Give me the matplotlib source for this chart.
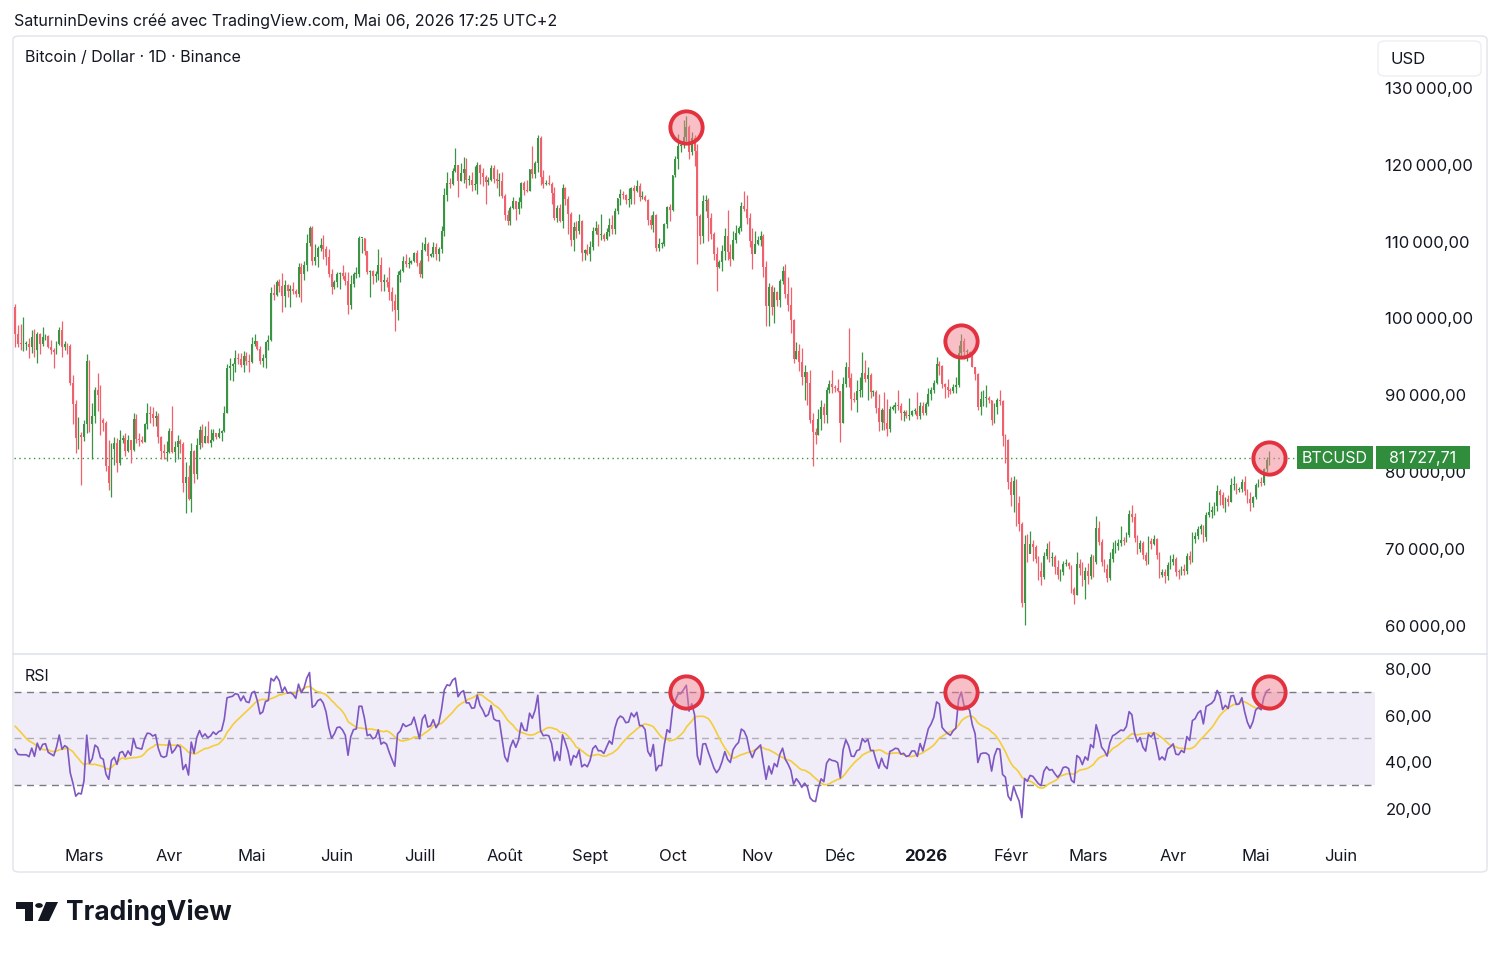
import numpy as np
import pandas as pd
import matplotlib
matplotlib.use("Agg")
import matplotlib.pyplot as plt
import matplotlib.dates as mdates
import matplotlib.transforms as mtransforms
from matplotlib.patches import FancyBboxPatch, Rectangle, Polygon, Circle
from matplotlib.lines import Line2D

plt.rcParams['font.family'] = ['Inter', 'DejaVu Sans']

# ---- data (prices in thousands of USD, daily, Binance BTCUSD) ----
first_day = "2025-02-04"

# closes before the visible window, only used to warm up the RSI
warmup_close = [94.6, 96.9, 98.1, 98.2, 98.3, 102.1, 96.9, 95.0, 92.5, 94.7, 94.5, 94.5, 94.5, 96.5,
                100.5, 99.9, 104.1, 104.4, 101.2, 102.0, 106.1, 103.7, 104.0, 104.8, 104.7, 102.6,
                102.1, 101.3, 103.7, 104.7, 102.4, 100.6, 97.7, 101.4]

close = [
    # feb 2025 (from the 4th)
    97.9, 96.6, 96.5, 96.5, 96.5, 96.1, 97.4, 95.8, 97.9, 96.6, 97.5, 97.6, 96.1, 95.8, 95.5, 96.6, 98.3, 96.1, 96.6, 96.3, 91.5, 88.7, 84.3, 84.7, 84.4,
    # mar
    86.1, 94.3, 86.1, 87.2, 90.6, 89.9, 86.7, 86.2, 80.7, 78.5, 82.9, 83.7, 81.1, 84.0, 84.3, 82.6, 84.0, 82.7, 86.8, 84.2, 84.0, 83.8, 86.1, 87.5, 87.4, 86.9, 87.2, 84.4, 82.6, 82.3, 82.5,
    # apr
    85.2, 82.5, 83.1, 83.9, 83.5, 78.4, 79.2, 76.3, 82.6, 79.6, 83.4, 85.3, 83.7, 84.5, 83.6, 84.0, 84.9, 84.4, 85.0, 85.2, 87.5, 93.4, 93.7, 93.9, 94.7, 94.6, 93.8, 95.0, 94.3, 94.2,
    # may
    96.5, 96.9, 95.9, 94.3, 94.7, 96.8, 97.0, 103.2, 102.9, 104.6, 104.1, 102.8, 104.2, 103.5, 103.7, 103.5, 103.1, 106.5, 105.6, 106.8, 109.7, 111.7, 107.3, 107.8, 109.0, 109.4, 108.9, 107.8, 105.6, 103.9, 104.6,
    # jun
    105.7, 105.8, 105.4, 104.7, 101.6, 104.4, 105.6, 105.7, 110.3, 110.3, 108.6, 105.9, 106.1, 105.4, 105.6, 106.8, 104.6, 104.9, 104.6, 103.3, 102.1, 100.9, 105.5, 106.0, 107.3, 106.9, 107.1, 107.3, 108.4, 107.1,
    # jul
    105.7, 108.8, 109.6, 108.0, 108.2, 109.2, 108.2, 108.9, 111.3, 115.9, 117.5, 117.4, 119.1, 119.8, 117.7, 118.8, 119.3, 117.9, 117.9, 117.3, 117.4, 119.9, 118.8, 118.3, 117.6, 117.9, 119.4, 118.0, 117.8, 117.8, 115.8,
    # aug
    113.3, 112.5, 114.2, 115.1, 114.1, 115.0, 117.5, 116.6, 116.5, 119.3, 118.7, 120.1, 123.3, 118.3, 117.4, 117.5, 117.4, 116.2, 112.9, 114.3, 112.5, 116.9, 115.4, 113.5, 110.1, 111.8, 111.3, 112.6, 108.4, 108.8, 108.2,
    # sep
    109.2, 111.2, 111.7, 110.7, 110.7, 110.2, 111.1, 112.0, 111.5, 113.9, 115.5, 116.1, 115.9, 115.3, 115.4, 116.8, 116.4, 117.1, 115.7, 115.7, 115.3, 112.7, 112.0, 113.3, 109.0, 109.6, 109.6, 112.1, 114.4, 114.0,
    # oct
    118.6, 120.6, 122.3, 122.4, 123.5, 124.8, 121.5, 123.3, 121.7, 113.2, 110.6, 115.2, 115.3, 113.0, 110.8, 108.2, 106.5, 107.2, 108.6, 110.6, 108.5, 107.6, 110.1, 111.0, 111.6, 114.5, 114.1, 112.9, 110.0, 108.3, 109.6,
    # nov
    110.1, 110.6, 106.5, 101.5, 103.9, 101.3, 103.3, 102.3, 104.7, 106.0, 103.0, 101.6, 99.7, 94.6, 95.6, 94.2, 92.2, 92.9, 91.5, 86.6, 85.1, 84.7, 86.8, 88.3, 87.3, 90.5, 91.3, 90.9, 90.8, 90.4,
    # dec
    86.3, 91.3, 93.5, 92.1, 89.4, 89.3, 90.4, 90.6, 92.7, 92.0, 92.5, 90.3, 90.3, 88.2, 86.4, 87.9, 86.2, 85.5, 88.1, 88.3, 88.6, 88.5, 87.6, 87.7, 87.2, 87.3, 87.8, 87.8, 87.1, 88.4, 87.5,
    # jan 2026
    88.7, 90.0, 90.6, 91.5, 93.9, 93.7, 91.3, 90.9, 90.6, 90.4, 90.9, 91.2, 95.4, 96.9, 95.5, 95.5, 95.1, 93.6, 92.6, 88.3, 89.4, 89.5, 89.5, 89.2, 86.6, 88.3, 89.2, 89.1, 84.6, 84.0, 78.6,
    # feb
    76.9, 78.7, 75.8, 73.1, 62.8, 70.5, 69.2, 70.5, 70.1, 68.6, 67.0, 66.2, 68.9, 69.8, 68.7, 68.8, 67.5, 66.4, 66.9, 67.9, 68.0, 67.6, 64.6, 63.9, 67.9, 67.4, 65.8, 67.0,
    # mar
    66.3, 68.8, 68.2, 72.6, 70.8, 68.1, 67.3, 66.1, 68.5, 69.9, 70.2, 70.6, 71.0, 70.9, 71.6, 74.4, 74.0, 71.3, 69.9, 70.6, 69.0, 68.3, 70.9, 70.5, 71.2, 69.1, 66.5, 66.9, 66.3, 67.8, 68.1,
    # apr
    68.5, 66.9, 66.8, 67.3, 67.0, 68.9, 68.4, 71.2, 71.5, 72.4, 72.8, 71.4, 74.3, 74.6, 74.9, 75.5, 77.4, 76.9, 75.6, 76.3, 76.0, 78.2, 78.3, 77.5, 77.6, 78.6, 77.4, 76.4, 75.8, 76.6,
    # may
    78.2, 78.6, 78.4, 80.3, 81.4, 81.72771,
]

high = [
    101.7, 99.0, 99.2, 100.1, 96.9, 97.3, 98.3, 98.5, 98.1, 98.0, 98.8, 97.9, 97.7, 97.0, 96.0, 96.9, 98.8, 99.5, 96.9, 96.7, 96.5, 92.5, 89.3, 87.0, 85.1,
    86.6, 95.2, 94.4, 88.9, 91.0, 92.8, 91.2, 86.9, 86.5, 84.0, 83.6, 84.4, 84.3, 85.3, 84.7, 85.0, 84.7, 84.0, 87.5, 87.4, 84.9, 84.5, 86.2, 88.8, 88.5, 88.3, 87.8, 87.5, 84.6, 83.5, 83.9,
    85.6, 88.5, 83.9, 84.7, 84.2, 83.8, 81.2, 80.8, 83.6, 82.7, 84.3, 85.9, 86.1, 85.8, 86.5, 85.5, 85.5, 85.0, 85.6, 85.3, 88.5, 93.9, 94.7, 94.0, 95.8, 95.3, 95.3, 95.6, 95.5, 95.2,
    97.4, 97.9, 96.9, 96.3, 95.2, 96.9, 97.7, 103.9, 104.3, 104.9, 105.0, 105.8, 104.9, 104.3, 104.2, 104.6, 103.7, 107.1, 107.1, 107.3, 110.8, 111.9, 111.9, 109.6, 109.3, 110.4, 110.7, 109.3, 108.9, 106.3, 104.9,
    105.9, 105.9, 106.8, 105.9, 105.9, 105.5, 105.9, 106.5, 110.6, 110.4, 110.4, 108.5, 106.2, 106.2, 106.0, 108.9, 107.8, 105.6, 105.3, 106.5, 104.0, 103.1, 106.1, 106.3, 108.0, 108.3, 107.8, 107.5, 108.5, 108.8,
    107.5, 109.8, 110.5, 109.8, 108.4, 109.8, 109.7, 109.2, 111.9, 116.8, 118.9, 118.2, 119.5, 122.0, 119.9, 120.1, 120.9, 120.8, 118.6, 118.9, 119.7, 120.2, 120.0, 119.5, 118.5, 118.3, 119.8, 119.8, 119.3, 118.8, 118.9,
    116.1, 114.0, 114.5, 115.7, 115.1, 115.7, 117.6, 117.7, 117.9, 119.3, 122.3, 120.3, 123.7, 123.6, 119.2, 117.9, 118.6, 117.6, 117.0, 114.6, 114.8, 117.4, 117.0, 115.8, 113.7, 112.4, 112.6, 113.5, 112.7, 108.9, 109.5,
    109.9, 111.8, 112.6, 112.2, 113.4, 111.0, 111.6, 112.9, 113.3, 114.3, 115.6, 116.7, 116.4, 116.1, 116.8, 117.0, 117.3, 117.9, 117.5, 116.4, 115.9, 115.4, 113.3, 113.9, 113.4, 110.3, 109.8, 112.3, 114.5, 114.8,
    118.6, 121.0, 123.9, 122.9, 125.7, 126.2, 125.1, 124.2, 123.8, 122.6, 113.4, 115.9, 116.0, 115.5, 113.6, 111.1, 109.2, 107.5, 109.4, 111.7, 114.0, 109.5, 111.3, 112.0, 111.9, 115.0, 116.4, 116.0, 113.6, 111.6, 111.2,
    110.6, 111.2, 110.8, 107.3, 104.5, 104.2, 104.0, 103.4, 105.0, 106.7, 107.0, 105.3, 104.0, 99.8, 96.8, 96.6, 96.0, 93.8, 92.9, 93.2, 87.5, 85.6, 88.1, 89.2, 88.9, 91.0, 91.9, 93.1, 91.2, 92.0,
    90.4, 92.3, 94.2, 98.6, 92.7, 90.3, 91.8, 92.3, 95.5, 94.5, 93.5, 92.8, 90.6, 90.5, 90.0, 88.2, 90.3, 89.4, 88.5, 88.6, 89.0, 90.5, 88.9, 87.9, 88.0, 89.5, 88.0, 88.2, 90.3, 89.0, 89.0,
    89.0, 90.8, 91.0, 91.8, 94.8, 94.3, 93.8, 91.5, 92.0, 90.8, 91.3, 92.3, 96.4, 97.9, 97.3, 95.9, 95.6, 95.5, 93.6, 92.8, 90.4, 90.6, 91.2, 89.8, 89.2, 88.9, 89.5, 90.5, 89.2, 84.8, 84.1,
    79.2, 79.3, 79.0, 76.8, 73.3, 71.6, 71.8, 72.2, 71.0, 70.4, 68.9, 68.2, 69.4, 70.6, 70.9, 69.5, 69.1, 68.4, 67.3, 68.3, 68.6, 68.2, 67.7, 64.9, 69.5, 68.6, 68.2, 67.5,
    68.0, 69.2, 69.1, 74.2, 73.5, 71.1, 68.5, 67.9, 69.4, 70.8, 71.0, 71.2, 72.8, 71.4, 72.0, 74.9, 75.6, 74.5, 71.6, 71.0, 70.9, 69.4, 71.5, 71.3, 71.6, 71.3, 69.4, 67.3, 67.2, 68.2, 69.0,
    69.2, 68.8, 67.3, 67.6, 67.9, 69.3, 69.6, 72.0, 72.1, 72.9, 73.1, 73.0, 74.6, 76.0, 75.4, 75.9, 78.2, 77.6, 77.3, 76.6, 76.9, 79.1, 79.3, 78.4, 77.9, 79.0, 79.3, 77.6, 77.3, 76.8,
    78.4, 78.9, 79.2, 80.4, 81.8, 82.6,
]

low = [
    96.2, 96.2, 95.7, 95.6, 95.7, 94.7, 95.3, 94.9, 94.1, 95.2, 96.3, 97.1, 96.0, 95.2, 93.4, 95.2, 96.4, 94.8, 95.8, 95.2, 91.2, 86.1, 82.3, 82.8, 78.2,
    83.9, 85.0, 85.1, 81.5, 86.3, 87.8, 84.7, 85.2, 80.0, 77.5, 76.6, 80.8, 79.9, 80.8, 83.7, 82.0, 82.5, 81.1, 82.6, 83.7, 83.2, 83.6, 83.8, 85.5, 86.3, 85.9, 85.8, 83.6, 81.6, 81.6, 81.3,
    82.4, 82.3, 81.2, 81.6, 82.4, 77.2, 74.5, 76.2, 74.6, 78.5, 78.9, 82.8, 83.1, 83.7, 83.6, 83.1, 83.9, 84.1, 84.3, 83.9, 85.1, 87.6, 91.9, 91.7, 92.9, 93.9, 93.6, 92.9, 93.8, 92.9,
    94.1, 96.3, 95.7, 93.9, 93.5, 93.4, 95.8, 96.9, 102.3, 102.8, 103.3, 100.7, 101.4, 102.6, 101.4, 103.1, 102.6, 102.6, 102.0, 104.9, 106.1, 109.3, 106.8, 106.8, 106.6, 108.7, 107.6, 106.8, 105.3, 103.1, 103.7,
    103.9, 103.7, 105.0, 104.2, 100.4, 101.1, 103.9, 105.1, 105.3, 108.4, 108.1, 105.6, 102.7, 104.3, 104.6, 104.9, 103.4, 103.5, 103.9, 102.3, 100.8, 98.2, 99.6, 104.6, 105.9, 106.6, 106.4, 106.9, 107.2, 106.7,
    105.3, 105.1, 108.6, 107.3, 107.8, 107.8, 107.5, 107.4, 108.4, 110.6, 115.2, 116.9, 117.3, 118.9, 115.7, 117.8, 117.5, 116.9, 117.3, 116.5, 116.6, 116.1, 117.4, 117.1, 114.7, 117.2, 117.8, 117.5, 116.9, 115.8, 115.5,
    112.7, 112.0, 112.0, 114.1, 112.7, 113.4, 114.3, 115.9, 116.3, 116.5, 118.1, 118.2, 118.9, 117.2, 116.8, 117.2, 117.2, 114.7, 112.7, 112.4, 112.4, 111.7, 114.6, 110.8, 109.3, 108.7, 110.3, 110.9, 107.4, 107.5, 108.1,
    107.3, 108.8, 110.9, 109.3, 110.1, 110.0, 110.1, 110.6, 110.9, 110.9, 113.4, 114.6, 115.4, 114.8, 114.4, 114.8, 114.7, 116.3, 115.1, 115.4, 115.1, 112.0, 111.5, 111.1, 108.6, 108.6, 109.1, 109.3, 111.6, 112.6,
    113.9, 118.3, 119.3, 121.6, 122.1, 123.0, 120.6, 121.1, 119.7, 107.0, 109.6, 109.7, 113.8, 110.0, 110.2, 107.5, 103.5, 106.4, 106.1, 107.5, 107.5, 106.7, 107.5, 109.7, 110.9, 111.3, 113.9, 112.2, 109.2, 106.3, 108.6,
    109.4, 109.3, 105.3, 98.9, 98.9, 100.3, 99.3, 101.5, 101.3, 104.3, 102.5, 100.8, 98.0, 94.0, 94.6, 93.0, 91.2, 89.3, 88.6, 86.3, 80.6, 83.5, 84.7, 85.3, 86.2, 86.3, 90.1, 90.2, 90.3, 90.3,
    83.8, 86.2, 91.0, 91.0, 88.0, 89.0, 87.7, 89.6, 89.6, 91.6, 89.3, 89.5, 89.8, 87.6, 85.2, 85.3, 85.3, 84.5, 85.1, 87.9, 87.6, 87.9, 86.6, 86.5, 86.9, 86.6, 87.2, 87.4, 86.8, 86.8, 87.3,
    87.3, 88.5, 89.3, 90.2, 91.3, 92.5, 90.8, 89.5, 89.6, 90.0, 90.2, 90.1, 91.0, 94.9, 94.6, 94.3, 94.9, 93.5, 91.9, 87.9, 87.3, 88.5, 88.3, 88.9, 86.0, 86.2, 87.4, 88.6, 83.3, 81.1, 77.6,
    75.5, 74.6, 72.9, 72.2, 62.3, 60.0, 68.1, 69.3, 68.3, 68.0, 65.8, 65.1, 65.9, 68.6, 68.2, 67.6, 66.6, 65.9, 65.7, 66.4, 67.6, 67.2, 64.1, 62.7, 63.8, 66.5, 65.0, 63.3,
    65.3, 65.9, 66.2, 67.9, 70.3, 67.6, 66.9, 65.6, 65.8, 68.2, 69.3, 69.7, 70.2, 70.4, 70.8, 71.4, 73.4, 70.8, 69.2, 69.5, 68.5, 67.8, 67.9, 69.8, 70.3, 68.6, 66.1, 66.2, 65.4, 65.8, 67.3,
    67.7, 66.3, 65.9, 66.5, 66.4, 66.6, 67.9, 68.2, 70.6, 71.1, 71.8, 70.7, 70.9, 74.0, 73.9, 74.3, 74.8, 75.6, 75.2, 74.7, 75.4, 75.9, 77.5, 77.0, 77.2, 77.3, 76.9, 75.8, 74.8, 75.3,
    76.3, 77.9, 78.0, 78.2, 79.9, 80.8,
]

month_ticks = ["2025-03-01", "2025-04-01", "2025-05-01", "2025-06-01", "2025-07-01", "2025-08-01",
               "2025-09-01", "2025-10-01", "2025-11-01", "2025-12-01", "2026-01-01", "2026-02-01",
               "2026-03-01", "2026-04-01", "2026-05-01", "2026-06-01"]
month_labels = ["Mars", "Avr", "Mai", "Juin", "Juill", "Août", "Sept", "Oct", "Nov", "Déc", "2026",
                "Févr", "Mars", "Avr", "Mai", "Juin"]
price_ticks = [60, 70, 80, 90, 100, 110, 120, 130]
rsi_ticks = [20, 40, 60, 80]

marked_days = ["2025-10-06", "2026-01-14", "2026-05-06"]
marked_rsi = [70, 70, 70]

# ---- derived ----
dates = pd.date_range(first_day, periods=len(close), freq="D")
x = mdates.date2num(dates)
c = np.array(close)
all_close = np.array(warmup_close + close)
o = all_close[len(warmup_close) - 1:-1]   # open = previous close
h = np.array(high)
l = np.array(low)

# RSI 14 (Wilder) and its 14 day SMA
chg = np.diff(all_close)
gains = np.where(chg > 0, chg, 0.0)
losses = np.where(chg < 0, -chg, 0.0)
n = 14
ag = np.full(len(chg), np.nan)
al = np.full(len(chg), np.nan)
ag[n - 1] = gains[:n].mean()
al[n - 1] = losses[:n].mean()
for i in range(n, len(chg)):
    ag[i] = (ag[i - 1] * (n - 1) + gains[i]) / n
    al[i] = (al[i - 1] * (n - 1) + losses[i]) / n
rsi_full = 100 - 100 / (1 + ag / al)
rsi_ma_full = pd.Series(rsi_full).rolling(14).mean().values
rsi = rsi_full[-len(close):]
rsi_ma = rsi_ma_full[-len(close):]

UP = "#3b9444"
DOWN = "#f0606d"
TXT = "#131722"
GRID = "#e0e3eb"

W, H = 1500, 954
fig = plt.figure(figsize=(W / 100, H / 100), dpi=100)

def fx(px):
    return px / W

def fy(py):
    return 1 - py / H

ax = fig.add_axes([fx(14), fy(654), fx(1375) - fx(14), fy(37) - fy(654)])
ax_r = fig.add_axes([fx(14), fy(835), fx(1375) - fx(14), fy(655) - fy(835)], sharex=ax)

x_mar = mdates.date2num(pd.Timestamp("2025-03-01"))
ax.set_xlim(x_mar - 25.45, x_mar + 469.4)
ax.set_ylim(56.3, 136.64)
ax_r.set_ylim(8.8, 86.2)

# candles
colors = np.where(c >= o, UP, DOWN)
ax.vlines(x, l, h, colors=colors, lw=0.9, zorder=2)
body = np.maximum(np.abs(c - o), 0.12)
ax.bar(x, body, bottom=np.minimum(o, c), width=0.62, color=colors, linewidth=0, zorder=3)

# last price line and labels
last = c[-1]
ax.axhline(last, color=UP, lw=1.0, ls=(0, (1, 2.5)), zorder=1)
trans = mtransforms.blended_transform_factory(ax.transAxes, ax.transData)
box_h = 23 / 7.68
ax.add_patch(Rectangle((0.9427, last - box_h / 2), 0.0558, box_h, transform=trans,
                       facecolor="#2f8d3c", edgecolor="none", clip_on=False, zorder=6))
ax.add_patch(Rectangle((1.0007, last - box_h / 2), 0.0690, box_h, transform=trans,
                       facecolor="#2f8d3c", edgecolor="none", clip_on=False, zorder=6))
ax.text(0.9706, last, "BTCUSD", transform=trans, ha="center", va="center", color="white",
        fontsize=11.5, clip_on=False, zorder=7)
lab = f"{last * 1000:,.2f}".replace(",", "\u202f").replace(".", ",")
ax.text(1.0352, last, lab, transform=trans, ha="center", va="center", color="white",
        fontsize=11.5, clip_on=False, zorder=7)

# highlighted points
mx = mdates.date2num(pd.to_datetime(marked_days))
idx = [list(dates).index(pd.Timestamp(d)) for d in marked_days]
ring = dict(s=540, facecolor=(0.95, 0.5, 0.56, 0.5), edgecolor="#e3323f", linewidths=2.8,
            zorder=8, clip_on=False)
ax.scatter(mx, c[idx], **ring)
ax_r.scatter(mx, marked_rsi, **ring)

# RSI pane
ax_r.axhspan(30, 70, color="#7e57c2", alpha=0.11, lw=0, zorder=0)
for lvl, a in [(70, 1.0), (50, 0.55), (30, 1.0)]:
    ax_r.axhline(lvl, color="#787b86", lw=1.0, ls=(0, (5, 4)), alpha=a, zorder=1)
ax_r.plot(x, rsi_ma, color="#f4ce3a", lw=1.2, zorder=3)
ax_r.plot(x, rsi, color="#7e57c2", lw=1.2, zorder=4)

# axes styling
def fmt_num(v):
    return f"{v:,.2f}".replace(",", "\u202f").replace(".", ",")

for a in (ax, ax_r):
    for s in a.spines.values():
        s.set_visible(False)
    a.tick_params(axis="y", left=False, right=True, labelleft=False, labelright=True,
                  length=0, pad=7.5, labelsize=12, labelcolor=TXT)
    a.set_facecolor("none")

ax.set_yticks(price_ticks)
ax.set_yticklabels([fmt_num(v * 1000) for v in price_ticks])
ax_r.set_yticks(rsi_ticks)
ax_r.set_yticklabels([fmt_num(v) for v in rsi_ticks])

ax.tick_params(axis="x", bottom=False, labelbottom=False)
ax_r.set_xticks(mdates.date2num(pd.to_datetime(month_ticks)))
ax_r.set_xticklabels(month_labels)
ax_r.tick_params(axis="x", length=0, pad=10, labelsize=12, labelcolor=TXT)
for t in ax_r.get_xticklabels():
    if t.get_text() == "2026":
        t.set_fontweight("bold")

# frame, separators and header
fig.add_artist(FancyBboxPatch((fx(13), fy(873)), fx(1487) - fx(13), fy(37) - fy(873),
                              boxstyle="round,pad=0,rounding_size=0.004", transform=fig.transFigure,
                              facecolor="none", edgecolor=GRID, lw=1.0))
fig.add_artist(Line2D([fx(13), fx(1487)], [fy(654.5), fy(654.5)], color=GRID, lw=1.2))
fig.add_artist(FancyBboxPatch((fx(1378), fy(77)), fx(1481) - fx(1378), fy(42) - fy(77),
                              boxstyle="round,pad=0,rounding_size=0.005", transform=fig.transFigure,
                              facecolor="white", edgecolor="#eceef2", lw=1.0))
fig.text(fx(1391), fy(59), "USD", fontsize=12, color=TXT, va="center")

fig.text(fx(14), fy(21), "SaturninDevins créé avec TradingView.com, Mai 06, 2026 17:25 UTC+2",
         fontsize=11.5, color=TXT, va="center")
fig.text(fx(25), fy(58), "Bitcoin / Dollar · 1D · Binance", fontsize=11.5, color=TXT, va="center")
fig.text(fx(25), fy(677), "RSI", fontsize=11.5, color=TXT, va="center")

# TradingView logo
def px_pts(pts):
    return [(fx(a), fy(b)) for a, b in pts]

fig.add_artist(Polygon(px_pts([(16, 903), (33, 903), (33, 922), (25, 922), (25, 910), (16, 910)]),
                       closed=True, facecolor=TXT, edgecolor="none", transform=fig.transFigure))
fig.add_artist(Polygon(px_pts([(46, 903), (58, 903), (49, 922), (38, 922)]),
                       closed=True, facecolor=TXT, edgecolor="none", transform=fig.transFigure))
fig.add_artist(Circle((fx(39), fy(906.5)), 3.8 / W, facecolor=TXT, edgecolor="none",
                      transform=fig.transFigure))
fig.text(fx(66), fy(913), "TradingView", fontsize=19, fontweight="bold", color=TXT, va="center")

fig.savefig("out.png", dpi=100, facecolor="white")
